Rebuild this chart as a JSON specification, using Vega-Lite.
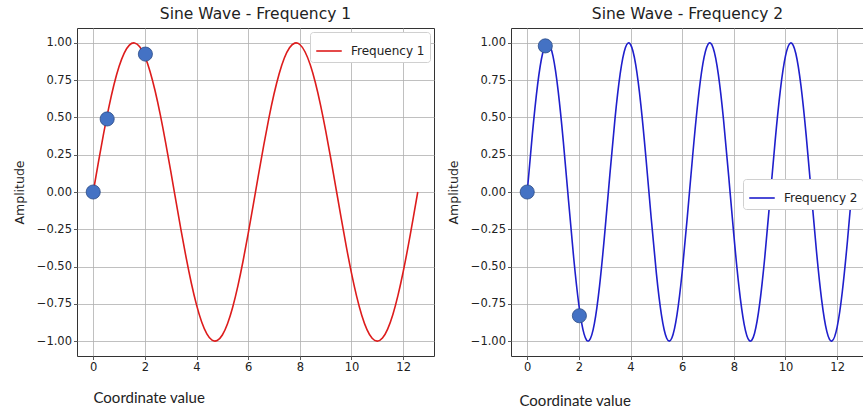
{
  "$schema": "https://vega.github.io/schema/vega-lite/v6.json",
  "background": "white",
  "padding": {"left": 12, "top": 6, "right": 0, "bottom": 0},
  "spacing": 11,
  "config": {
    "font": "DejaVu Sans",
    "view": {"stroke": "#333333", "strokeWidth": 1},
    "axis": {
      "grid": true, "gridColor": "#b0b0b0", "gridWidth": 0.8,
      "domain": false, "tickColor": "#333333", "tickSize": 3.5, "tickWidth": 0.8,
      "labelFont": "DejaVu Sans", "labelFontSize": 11.5, "labelColor": "#222222", "labelPadding": 2,
      "titleFontWeight": "normal", "titleColor": "#222222"
    },
    "title": {"font": "DejaVu Sans", "fontSize": 15.5, "fontWeight": "normal", "color": "#222222", "offset": 6},
    "legend": {
      "orient": "none", "title": null, "symbolType": "stroke", "symbolSize": 650, "symbolStrokeWidth": 1.6,
      "labelFont": "DejaVu Sans", "labelFontSize": 12, "labelColor": "#222222", "labelOffset": 8,
      "fillColor": "white", "strokeColor": "#d0d0d0", "cornerRadius": 3, "padding": 5
    }
  },
  "datasets": {
    "f1": [
      {"x":0,"y":0},{"x":0.2,"y":0.1987},{"x":0.4,"y":0.3894},{"x":0.6,"y":0.5646},{"x":0.8,"y":0.7174},{"x":1.0,"y":0.8415},
      {"x":1.2,"y":0.932},{"x":1.4,"y":0.9854},{"x":1.6,"y":0.9996},{"x":1.8,"y":0.9738},{"x":2.0,"y":0.9093},{"x":2.2,"y":0.8085},
      {"x":2.4,"y":0.6755},{"x":2.6,"y":0.5155},{"x":2.8,"y":0.335},{"x":3.0,"y":0.1411},{"x":3.2,"y":-0.0584},{"x":3.4,"y":-0.2555},
      {"x":3.6,"y":-0.4425},{"x":3.8,"y":-0.6119},{"x":4.0,"y":-0.7568},{"x":4.2,"y":-0.8716},{"x":4.4,"y":-0.9516},{"x":4.6,"y":-0.9937},
      {"x":4.8,"y":-0.9962},{"x":5.0,"y":-0.9589},{"x":5.2,"y":-0.8835},{"x":5.4,"y":-0.7728},{"x":5.6,"y":-0.6313},{"x":5.8,"y":-0.4646},
      {"x":6.0,"y":-0.2794},{"x":6.2,"y":-0.0831},{"x":6.4,"y":0.1165},{"x":6.6,"y":0.3115},{"x":6.8,"y":0.4941},{"x":7.0,"y":0.657},
      {"x":7.2,"y":0.7937},{"x":7.4,"y":0.8987},{"x":7.6,"y":0.9679},{"x":7.8,"y":0.9985},{"x":8.0,"y":0.9894},{"x":8.2,"y":0.9407},
      {"x":8.4,"y":0.8546},{"x":8.6,"y":0.7344},{"x":8.8,"y":0.5849},{"x":9.0,"y":0.4121},{"x":9.2,"y":0.2229},{"x":9.4,"y":0.0248},
      {"x":9.6,"y":-0.1743},{"x":9.8,"y":-0.3665},{"x":10.0,"y":-0.544},{"x":10.2,"y":-0.6999},{"x":10.4,"y":-0.8278},{"x":10.6,"y":-0.9228},
      {"x":10.8,"y":-0.9812},{"x":11.0,"y":-1.0},{"x":11.2,"y":-0.9792},{"x":11.4,"y":-0.9193},{"x":11.6,"y":-0.8228},{"x":11.8,"y":-0.6935},
      {"x":12.0,"y":-0.5366},{"x":12.2,"y":-0.3582},{"x":12.4,"y":-0.1656},{"x":12.566,"y":0}
    ],
    "f2": [
      {"x":0,"y":0},{"x":0.2,"y":0.3894},{"x":0.4,"y":0.7174},{"x":0.6,"y":0.932},{"x":0.8,"y":0.9996},{"x":1.0,"y":0.9093},
      {"x":1.2,"y":0.6755},{"x":1.4,"y":0.335},{"x":1.6,"y":-0.0584},{"x":1.8,"y":-0.4425},{"x":2.0,"y":-0.7568},{"x":2.2,"y":-0.9516},
      {"x":2.4,"y":-0.9962},{"x":2.6,"y":-0.8835},{"x":2.8,"y":-0.6313},{"x":3.0,"y":-0.2794},{"x":3.2,"y":0.1165},{"x":3.4,"y":0.4941},
      {"x":3.6,"y":0.7937},{"x":3.8,"y":0.9679},{"x":4.0,"y":0.9894},{"x":4.2,"y":0.8546},{"x":4.4,"y":0.5849},{"x":4.6,"y":0.2229},
      {"x":4.8,"y":-0.1743},{"x":5.0,"y":-0.544},{"x":5.2,"y":-0.8278},{"x":5.4,"y":-0.9812},{"x":5.6,"y":-0.9792},{"x":5.8,"y":-0.8228},
      {"x":6.0,"y":-0.5366},{"x":6.2,"y":-0.1656},{"x":6.4,"y":0.2315},{"x":6.6,"y":0.592},{"x":6.8,"y":0.8592},{"x":7.0,"y":0.9906},
      {"x":7.2,"y":0.9657},{"x":7.4,"y":0.7884},{"x":7.6,"y":0.4864},{"x":7.8,"y":0.1078},{"x":8.0,"y":-0.2879},{"x":8.2,"y":-0.6381},
      {"x":8.4,"y":-0.8874},{"x":8.6,"y":-0.9969},{"x":8.8,"y":-0.9488},{"x":9.0,"y":-0.751},{"x":9.2,"y":-0.4346},{"x":9.4,"y":-0.0496},
      {"x":9.6,"y":0.3433},{"x":9.8,"y":0.682},{"x":10.0,"y":0.9129},{"x":10.2,"y":0.9998},{"x":10.4,"y":0.9288},{"x":10.6,"y":0.7112},
      {"x":10.8,"y":0.3813},{"x":11.0,"y":-0.0088},{"x":11.2,"y":-0.3975},{"x":11.4,"y":-0.7234},{"x":11.6,"y":-0.9352},{"x":11.8,"y":-0.9993},
      {"x":12.0,"y":-0.9058},{"x":12.2,"y":-0.669},{"x":12.4,"y":-0.3267},{"x":12.566,"y":0}
    ],
    "p1": [{"x":0,"y":0},{"x":0.54,"y":0.49},{"x":2.02,"y":0.925}],
    "p2": [{"x":0,"y":0},{"x":0.7,"y":0.98},{"x":2.02,"y":-0.83}]
  },
  "hconcat": [
    {
      "width": 357, "height": 328,
      "title": "Sine Wave - Frequency 1",
      "layer": [
        {
          "data": {"name": "f1"},
          "mark": {"type": "line", "strokeWidth": 1.6, "interpolate": "natural"},
          "encoding": {
            "x": {"field": "x", "type": "quantitative", "scale": {"domain": [-0.628, 13.195], "nice": false, "zero": false},
                  "axis": {"values": [0,2,4,6,8,10,12], "title": "Coordinate value", "titleFont": "Lato", "titleFontSize": 15,
                           "titleAnchor": "start", "titleAlign": "left", "titleBaseline": "alphabetic", "titleX": 16, "titleY": 46}},
            "y": {"field": "y", "type": "quantitative", "scale": {"domain": [-1.1, 1.1], "nice": false},
                  "axis": {"values": [-1,-0.75,-0.5,-0.25,0,0.25,0.5,0.75,1], "format": ".2f", "title": "Amplitude",
                           "titleFont": "DejaVu Sans", "titleFontSize": 12.5, "titlePadding": 10}},
            "color": {"datum": "Frequency 1", "scale": {"range": ["#dd1c1c"]}, "legend": {"legendX": 233, "legendY": 4}}
          }
        },
        {
          "data": {"name": "p1"},
          "mark": {"type": "point", "shape": "circle", "filled": true, "fill": "#4472c4", "stroke": "#2a4a85", "strokeWidth": 0.8, "size": 200, "opacity": 1},
          "encoding": {
            "x": {"field": "x", "type": "quantitative"},
            "y": {"field": "y", "type": "quantitative"}
          }
        }
      ]
    },
    {
      "width": 353, "height": 328,
      "title": "Sine Wave - Frequency 2",
      "layer": [
        {
          "data": {"name": "f2"},
          "mark": {"type": "line", "strokeWidth": 1.6, "interpolate": "natural"},
          "encoding": {
            "x": {"field": "x", "type": "quantitative", "scale": {"domain": [-0.628, 13.04], "nice": false, "zero": false},
                  "axis": {"values": [0,2,4,6,8,10,12], "title": "Coordinate value", "titleFont": "Lato", "titleFontSize": 15,
                           "titleAnchor": "start", "titleAlign": "left", "titleBaseline": "alphabetic", "titleX": 8, "titleY": 49}},
            "y": {"field": "y", "type": "quantitative", "scale": {"domain": [-1.1, 1.1], "nice": false},
                  "axis": {"values": [-1,-0.75,-0.5,-0.25,0,0.25,0.5,0.75,1], "format": ".2f", "title": "Amplitude",
                           "titleFont": "DejaVu Sans", "titleFontSize": 12.5, "titlePadding": 10}},
            "color": {"datum": "Frequency 2", "scale": {"range": ["#1f1fcc"]}, "legend": {"legendX": 232, "legendY": 151}}
          }
        },
        {
          "data": {"name": "p2"},
          "mark": {"type": "point", "shape": "circle", "filled": true, "fill": "#4472c4", "stroke": "#2a4a85", "strokeWidth": 0.8, "size": 200, "opacity": 1},
          "encoding": {
            "x": {"field": "x", "type": "quantitative"},
            "y": {"field": "y", "type": "quantitative"}
          }
        }
      ]
    }
  ],
  "resolve": {"scale": {"color": "independent"}}
}
